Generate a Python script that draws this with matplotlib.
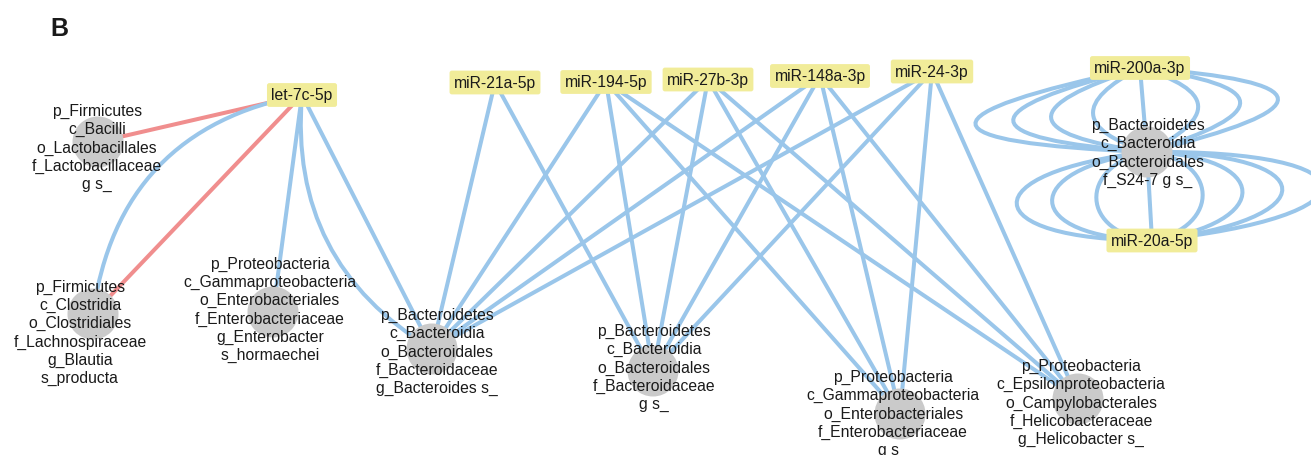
import matplotlib
matplotlib.use("Agg")
import matplotlib.pyplot as plt
from matplotlib.patches import Circle, PathPatch
from matplotlib.path import Path
import numpy as np

plt.rcParams['font.family'] = ['Liberation Sans', 'DejaVu Sans']

# ---------------- data ----------------
MIRNAS = ['let-7c-5p', 'miR-21a-5p', 'miR-194-5p', 'miR-27b-3p',
          'miR-148a-3p', 'miR-24-3p', 'miR-200a-3p', 'miR-20a-5p']

TAXA = ['T1', 'T2', 'T3', 'T4', 'T5', 'T6', 'T7', 'T8']
TAXA_LABELS = [
    "p_Firmicutes\nc_Bacilli\no_Lactobacillales\nf_Lactobacillaceae\ng s_",
    "p_Firmicutes\nc_Clostridia\no_Clostridiales\nf_Lachnospiraceae\ng_Blautia\ns_producta",
    "p_Proteobacteria\nc_Gammaproteobacteria\no_Enterobacteriales\nf_Enterobacteriaceae\ng_Enterobacter\ns_hormaechei",
    "p_Bacteroidetes\nc_Bacteroidia\no_Bacteroidales\nf_Bacteroidaceae\ng_Bacteroides s_",
    "p_Bacteroidetes\nc_Bacteroidia\no_Bacteroidales\nf_Bacteroidaceae\ng s_",
    "p_Proteobacteria\nc_Gammaproteobacteria\no_Enterobacteriales\nf_Enterobacteriaceae\ng s_",
    "p_Bacteroidetes\nc_Bacteroidia\no_Bacteroidales\nf_S24-7 g s_",
    "p_Proteobacteria\nc_Epsilonproteobacteria\no_Campylobacterales\nf_Helicobacteraceae\ng_Helicobacter s_",
]

# edges: source miRNA, target taxon, type ('neg' = red, 'pos' = blue)
EDGE_SRC = (['let-7c-5p'] * 6 + ['miR-21a-5p'] * 2 + ['miR-194-5p'] * 4 +
            ['miR-27b-3p'] * 4 + ['miR-148a-3p'] * 4 + ['miR-24-3p'] * 4 +
            ['miR-200a-3p'] * 8 + ['miR-20a-5p'] * 8)
EDGE_DST = (['T1', 'T2', 'T2', 'T3', 'T4', 'T4'] + ['T4', 'T5'] +
            ['T4', 'T5', 'T6', 'T8'] * 4 + ['T7'] * 8 + ['T7'] * 8)
EDGE_TYPE = (['neg', 'neg', 'pos', 'pos', 'pos', 'pos'] + ['pos'] * 2 +
             ['pos'] * 16 + ['pos'] * 16)

# ---------------- layout / style ----------------
MIR_POS = {'let-7c-5p': (302, 96), 'miR-21a-5p': (495, 83.5),
           'miR-194-5p': (606, 83), 'miR-27b-3p': (708, 80.5),
           'miR-148a-3p': (820, 77), 'miR-24-3p': (932, 72.5),
           'miR-200a-3p': (1140, 69), 'miR-20a-5p': (1152, 241.5)}
CIRCLE_POS = {'T1': (98, 143), 'T2': (93, 315), 'T3': (273, 313),
              'T4': (432, 350), 'T5': (653, 372), 'T6': (900, 415),
              'T7': (1147, 153), 'T8': (1078, 400)}
LABEL_POS = {'T1': (97, 148), 'T2': (80, 333), 'T3': (270, 310),
             'T4': (437, 352), 'T5': (654, 368), 'T6': (893, 414),
             'T7': (1148, 153), 'T8': (1081, 403)}
# curvature (same sign convention as matplotlib arc3) and how far along the
# chord the Bezier handles sit (1/3 = plain quadratic arc, small = rounder)
EDGE_RAD = ([0, 0, 0.36, 0.0, 0.31, 0.0] + [0] * 2 + [0] * 16 +
            [4.0, 3.1, 2.2, 1.2, 0, -1.3, -2.3, -3.2] +
            [3.9, 3.0, 2.1, 1.2, 0, -1.2, -2.2, -3.0])
EDGE_HANDLE = [1 / 3] * 32 + [0.12] * 16
EDGE_COLOR = {'neg': '#f08e8e', 'pos': '#9ac6ea'}
W, H = 1311, 456

fig = plt.figure(figsize=(W / 100, H / 100), dpi=100)
ax = fig.add_axes([0, 0, 1, 1])
ax.set_xlim(0, W)
ax.set_ylim(H, 0)
ax.axis('off')

node_pos = dict(MIR_POS)
node_pos.update(CIRCLE_POS)


def edge_path(p0, p2, rad, a):
    p0 = np.asarray(p0, float)
    p2 = np.asarray(p2, float)
    d = p2 - p0
    L = np.hypot(*d)
    n = np.array([-d[1], d[0]]) / L
    k = (2.0 / 3.0) * rad * L
    c1 = p0 + a * d + k * n
    c2 = p0 + (1 - a) * d + k * n
    return Path([p0, c1, c2, p2],
                [Path.MOVETO, Path.CURVE4, Path.CURVE4, Path.CURVE4])


for s, d, t, r, a in zip(EDGE_SRC, EDGE_DST, EDGE_TYPE, EDGE_RAD, EDGE_HANDLE):
    ax.add_patch(PathPatch(edge_path(node_pos[s], node_pos[d], r, a),
                           facecolor='none', edgecolor=EDGE_COLOR[t],
                           lw=2.9, zorder=1, capstyle='round'))

for tx in TAXA:
    ax.add_patch(Circle(CIRCLE_POS[tx], 25.5, facecolor='#cacaca',
                        edgecolor='none', zorder=2))

for tx, lab in zip(TAXA, TAXA_LABELS):
    x, y = LABEL_POS[tx]
    ax.text(x, y, lab, ha='center', va='center', fontsize=11.3,
            linespacing=1.26, color='#1a1a1a', zorder=4)

for m in MIRNAS:
    x, y = MIR_POS[m]
    ax.text(x, y, m, ha='center', va='center', fontsize=11.3,
            color='#1a1a1a', zorder=5,
            bbox=dict(boxstyle='round,pad=0.28,rounding_size=0.15',
                      facecolor='#f1ec99', edgecolor='none'))

ax.text(59, 29, 'B', ha='center', va='center', fontsize=18,
        fontweight='bold', color='#1a1a1a')

fig.savefig('out.png', dpi=100)
